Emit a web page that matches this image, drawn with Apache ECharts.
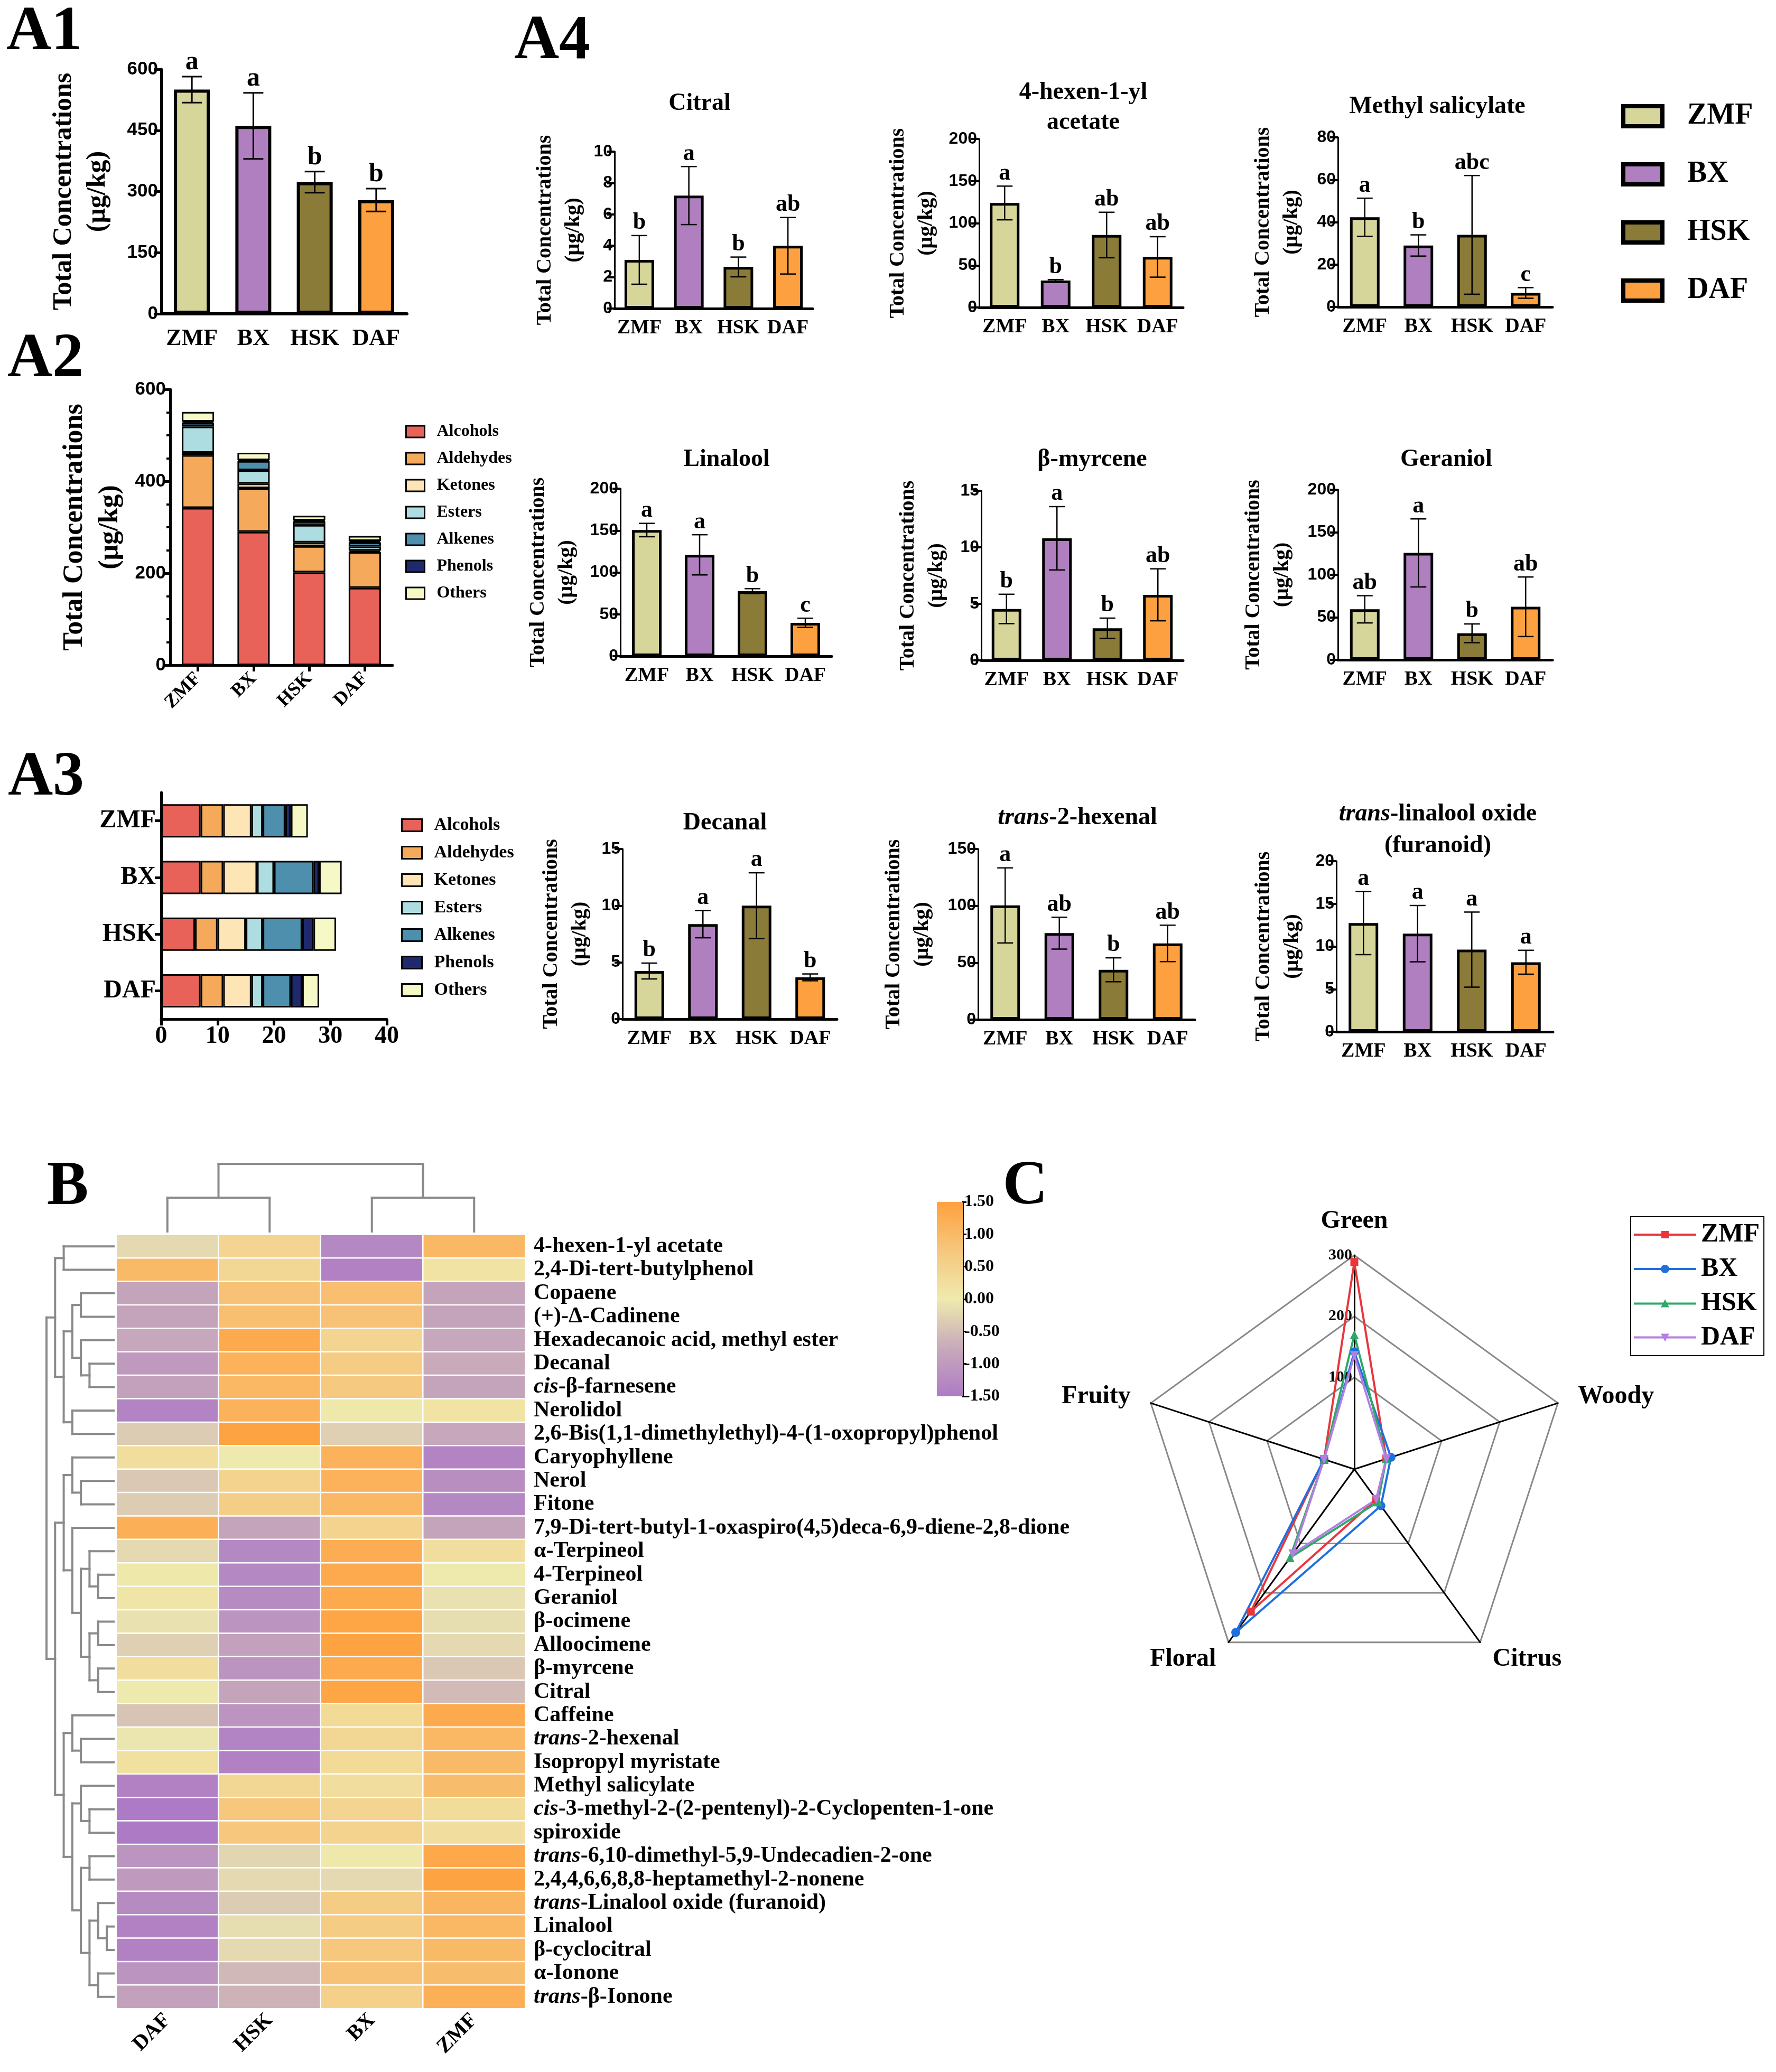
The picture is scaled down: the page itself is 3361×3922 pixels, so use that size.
<!DOCTYPE html>
<html><head><meta charset="utf-8">
<script src="https://cdn.jsdelivr.net/npm/echarts@6/dist/echarts.min.js"></script>
<style>html,body{margin:0;padding:0;background:#fff}#c{width:3361px;height:3922px}</style>
</head><body><div id="c"></div>
<script>
// ---------------- DATA ----------------
const samples = ['ZMF', 'BX', 'HSK', 'DAF'];

// A1 total concentrations
const totalMean = [550, 461, 323, 279];
const totalErr = [32, 81, 26, 28];
const totalSig = ['a', 'a', 'b', 'b'];

// A2 concentrations by class (ZMF, BX, HSK, DAF)
const classNames = ['Alcohols', 'Aldehydes', 'Ketones', 'Esters', 'Alkenes', 'Phenols', 'Others'];
const concAlcohols = [342, 290, 202, 168];
const concAldehydes = [115, 95, 57, 78];
const concKetones = [5, 10, 8, 3];
const concEsters = [57, 29, 38, 9];
const concAlkenes = [8, 20, 8, 9];
const concPhenols = [3, 2, 2, 3];
const concOthers = [21, 16, 10, 11];

// A3 number of compounds by class (ZMF, BX, HSK, DAF)
const numAlcohols = [7, 7, 6, 7];
const numAldehydes = [4, 4, 4, 4];
const numKetones = [5, 6, 5, 5];
const numEsters = [2, 3, 3, 2];
const numAlkenes = [4, 7, 7, 5];
const numPhenols = [1, 1, 2, 2];
const numOthers = [3, 4, 4, 3];

// A4 key compounds (ZMF, BX, HSK, DAF)
const citralMean = [3.1, 7.2, 2.65, 4.0];
const citralErr = [1.55, 1.85, 0.63, 1.8];
const citralSig = ['b', 'a', 'b', 'ab'];
const hexenylMean = [124, 32, 86, 60];
const hexenylErr = [20, 1, 27, 24];
const hexenylSig = ['a', 'b', 'ab', 'ab'];
const methylSalMean = [42.3, 29, 34, 6.6];
const methylSalErr = [9, 5, 28, 2.5];
const methylSalSig = ['a', 'b', 'abc', 'c'];
const linaloolMean = [150.6, 121, 77.6, 39.8];
const linaloolErr = [8, 24, 3, 5.5];
const linaloolSig = ['a', 'a', 'b', 'c'];
const myrceneMean = [4.55, 10.8, 2.84, 5.8];
const myrceneErr = [1.3, 2.8, 0.9, 2.3];
const myrceneSig = ['b', 'a', 'b', 'ab'];
const geraniolMean = [59.4, 125.7, 31.2, 62.4];
const geraniolErr = [16, 40, 11, 35];
const geraniolSig = ['ab', 'a', 'b', 'ab'];
const decanalMean = [4.24, 8.37, 10.0, 3.68];
const decanalErr = [0.7, 1.2, 2.9, 0.3];
const decanalSig = ['b', 'a', 'a', 'b'];
const hexenalMean = [100.4, 76, 43.8, 67];
const hexenalErr = [33, 14, 10.5, 16];
const hexenalSig = ['a', 'ab', 'b', 'ab'];
const linOxideMean = [12.74, 11.5, 9.63, 8.15];
const linOxideErr = [3.7, 3.3, 4.4, 1.4];
const linOxideSig = ['a', 'a', 'a', 'a'];

// B heatmap
const hmCols = ['DAF', 'HSK', 'BX', 'ZMF'];
const hmRows = ['4-hexen-1-yl acetate', '2,4-Di-tert-butylphenol', 'Copaene', '(+)-\u0394-Cadinene',
  'Hexadecanoic acid, methyl ester', 'Decanal', 'cis-\u03b2-farnesene', 'Nerolidol',
  '2,6-Bis(1,1-dimethylethyl)-4-(1-oxopropyl)phenol', 'Caryophyllene', 'Nerol', 'Fitone',
  '7,9-Di-tert-butyl-1-oxaspiro(4,5)deca-6,9-diene-2,8-dione', '\u03b1-Terpineol', '4-Terpineol', 'Geraniol',
  '\u03b2-ocimene', 'Alloocimene', '\u03b2-myrcene', 'Citral', 'Caffeine', 'trans-2-hexenal',
  'Isopropyl myristate', 'Methyl salicylate', 'cis-3-methyl-2-(2-pentenyl)-2-Cyclopenten-1-one', 'spiroxide',
  'trans-6,10-dimethyl-5,9-Undecadien-2-one', '2,4,4,6,6,8,8-heptamethyl-2-nonene',
  'trans-Linalool oxide (furanoid)', 'Linalool', '\u03b2-cyclocitral', '\u03b1-Ionone', 'trans-\u03b2-Ionone'];
const hmValues = [
  [-0.2, 0.45, -1.3, 1.05], [1.0, 0.4, -1.4, 0.15], [-0.85, 0.85, 0.9, -0.85], [-0.85, 0.9, 0.85, -0.85],
  [-0.8, 1.3, 0.45, -0.8], [-1.0, 1.15, 0.65, -0.75], [-0.9, 1.05, 0.7, -0.85], [-1.35, 1.15, 0.05, 0.15],
  [-0.35, 1.45, -0.3, -0.8], [0.25, 0.0, 1.15, -1.35], [-0.4, 0.5, 1.15, -1.2], [-0.35, 0.6, 1.05, -1.3],
  [1.2, -0.85, 0.5, -0.85], [-0.2, -1.3, 1.25, 0.25], [0.05, -1.3, 1.3, 0.0], [0.1, -1.25, 1.3, -0.1],
  [-0.1, -1.1, 1.4, -0.15], [-0.3, -0.9, 1.45, -0.2], [0.25, -1.1, 1.3, -0.4], [0.0, -0.85, 1.4, -0.55],
  [-0.45, -1.1, 0.35, 1.3], [-0.05, -1.35, 0.4, 1.05], [0.2, -1.4, 0.35, 1.0], [-1.4, 0.4, 0.25, 0.95],
  [-1.5, 0.75, 0.45, 0.3], [-1.5, 0.75, 0.5, 0.25], [-1.1, -0.25, 0.05, 1.35], [-1.0, -0.2, -0.2, 1.45],
  [-1.25, -0.35, 0.65, 1.1], [-1.4, -0.15, 0.65, 1.05], [-1.4, -0.2, 0.75, 1.0], [-1.1, -0.6, 0.85, 0.95],
  [-0.9, -0.65, 0.55, 1.2]];
const colTree = [[0, 1], [2, 3]];
const rowTree = [
  [[0, 1], [[[2, 3], [4, [5, 6]]], [7, 8]]],
  [[[9, [10, 11]], [12, [[13, [14, 15]], [[16, 17], [18, 19]]]]],
   [[20, [21, 22]], [[23, [24, 25]], [[26, 27], [[28, [29, 30]], [31, 32]]]]]]];

// C radar
const aromaNames = ['Green', 'Fruity', 'Floral', 'Citrus', 'Woody'];
const aromaZMF = [289, 2, 238, 11, 5];
const aromaBX = [142, 2, 280, 24, 13];
const aromaHSK = [170, 2, 129, 16, 5];
const aromaDAF = [136, 2, 121, 11, 5];
const radarTickLabels = [100, 200, 300];

// ---------------- STYLE ----------------
const FONT = '"Liberation Serif", "Times New Roman", serif';
const SANS = '"Liberation Sans", Arial, sans-serif';
const sampleColors = ['#D6D69B', '#AF7FBF', '#8B7B38', '#FDA03F'];
const classColors = ['#E8625A', '#F5AA5B', '#FDE5B5', '#AEDDE1', '#4E8FAE', '#1F2A6E', '#F6F8C5'];
const radarColors = ['#E8363C', '#1F6FE0', '#2EA86A', '#B47FE0'];

const grids = [], xAxes = [], yAxes = [], series = [], legends = [], gfx = [];
function addGrid(r) {
  grids.push({left: r[0], top: r[1], width: r[2], height: r[3], containLabel: false, outerBoundsMode: 'none'});
  return grids.length - 1;
}
const bold = (size, extra) => Object.assign({color: '#000', fontFamily: FONT, fontWeight: 'bold', fontSize: size}, extra || {});
const boldSans = (size, extra) => Object.assign({color: '#000', fontFamily: SANS, fontWeight: 'bold', fontSize: size}, extra || {});

function errRenderer(sig, p) {
  return function (params, api) {
    const i = api.value(0), v = api.value(1), e = api.value(2);
    const t = api.coord([i, v + e]), b = api.coord([i, Math.max(0, v - e)]);
    const h = p.cap / 2, lw = p.errW;
    const ls = {stroke: '#000', lineWidth: lw};
    return {type: 'group', children: [
      {type: 'line', shape: {x1: t[0], y1: t[1], x2: b[0], y2: b[1]}, style: ls},
      {type: 'line', shape: {x1: t[0] - h, y1: t[1], x2: t[0] + h, y2: t[1]}, style: ls},
      {type: 'line', shape: {x1: b[0] - h, y1: b[1], x2: b[0] + h, y2: b[1]}, style: ls},
      {type: 'text', style: {text: sig[params.dataIndex], x: t[0], y: t[1] - 2, align: 'center', verticalAlign: 'bottom',
        textAlign: 'center', textVerticalAlign: 'bottom', fontSize: p.letter, fontFamily: FONT, fontWeight: 'bold', fill: '#000'}}
    ]};
  };
}

function barPanel(p, mean, err, sig) {
  const gi = addGrid(p.rect);
  xAxes.push({gridIndex: gi, type: 'category', data: samples,
    axisLine: {lineStyle: {color: '#000', width: p.xw}}, axisTick: {show: false},
    axisLabel: bold(p.cat, {margin: p.catMargin, interval: 0})});
  yAxes.push({gridIndex: gi, type: 'value', min: 0, max: p.max, interval: p.step,
    name: 'Total Concentrations\n(\u03bcg/kg)', nameLocation: 'middle', nameRotate: 90, nameGap: p.nameGap,
    nameTextStyle: bold(p.nameSize, {lineHeight: p.nameLH}),
    axisLine: {show: true, lineStyle: {color: '#000', width: p.yw}},
    axisTick: {show: true, length: p.tick, lineStyle: {color: '#000', width: p.tickW}},
    axisLabel: boldSans(p.tickFont, {margin: p.tickMargin}), splitLine: {show: false}});
  series.push({type: 'bar', xAxisIndex: gi, yAxisIndex: gi, barWidth: p.barW,
    data: mean.map((v, i) => ({value: v, itemStyle: {color: sampleColors[i]}})),
    itemStyle: {borderColor: '#000', borderWidth: p.border}});
  series.push({type: 'custom', xAxisIndex: gi, yAxisIndex: gi, z: 5,
    data: mean.map((v, i) => [i, v, err[i]]), renderItem: errRenderer(sig, p)});
}

// A1
barPanel({rect: [305, 131, 465, 463], max: 600, step: 150, xw: 6, yw: 5, tick: 14, tickW: 5, cat: 44, catMargin: 26,
  tickFont: 35, tickMargin: 6, nameGap: 88, nameSize: 50, nameLH: 64, barW: 68, border: 6, cap: 38, errW: 3, letter: 50},
  totalMean, totalErr, totalSig);

// A4 panels
const a4 = {xw: 5, yw: 3, tick: 15, tickW: 4, cat: 38, catMargin: 18, tickFont: 32, tickMargin: 4, nameSize: 40, nameLH: 54,
  barW: 56, border: 5, cap: 30, errW: 2.5, letter: 44};
const P = (o) => Object.assign({}, a4, o);
barPanel(P({rect: [1163, 287, 375, 297], max: 10, step: 2, nameGap: 50}), citralMean, citralErr, citralSig);
barPanel(P({rect: [1853, 263, 386, 319], max: 200, step: 50, nameGap: 72}), hexenylMean, hexenylErr, hexenylSig);
barPanel(P({rect: [2532, 260, 406, 321], max: 80, step: 20, nameGap: 60}), methylSalMean, methylSalErr, methylSalSig);
barPanel(P({rect: [1174, 925, 400, 317], max: 200, step: 50, nameGap: 74}), linaloolMean, linaloolErr, linaloolSig);
barPanel(P({rect: [1857, 929, 382, 321], max: 15, step: 5, nameGap: 57}), myrceneMean, myrceneErr, myrceneSig);
barPanel(P({rect: [2532, 927, 406, 322], max: 200, step: 50, nameGap: 78}), geraniolMean, geraniolErr, geraniolSig);
barPanel(P({rect: [1178, 1607, 406, 322], max: 15, step: 5, nameGap: 53}), decanalMean, decanalErr, decanalSig);
barPanel(P({rect: [1851, 1607, 410, 323], max: 150, step: 50, nameGap: 78}), hexenalMean, hexenalErr, hexenalSig);
barPanel(P({rect: [2529, 1630, 410, 323], max: 20, step: 5, nameGap: 56}), linOxideMean, linOxideErr, linOxideSig);

// A2 stacked concentrations
const concByClass = [concAlcohols, concAldehydes, concKetones, concEsters, concAlkenes, concPhenols, concOthers];
{
  const gi = addGrid([322, 737, 421, 522]);
  xAxes.push({gridIndex: gi, type: 'category', data: samples,
    axisLine: {lineStyle: {color: '#000', width: 5}},
    axisTick: {show: true, alignWithLabel: true, length: 12, lineStyle: {color: '#000', width: 5}},
    axisLabel: bold(36, {rotate: 45, margin: 20, interval: 0})});
  yAxes.push({gridIndex: gi, type: 'value', min: 0, max: 600, interval: 200,
    name: 'Total Concentrations\n(\u03bcg/kg)', nameLocation: 'middle', nameRotate: 90, nameGap: 80,
    nameTextStyle: bold(52, {lineHeight: 67}),
    axisLine: {show: true, lineStyle: {color: '#000', width: 5}},
    axisTick: {show: true, length: 12, lineStyle: {color: '#000', width: 5}},
    minorTick: {show: true, splitNumber: 4, length: 7, lineStyle: {color: '#000', width: 4}},
    axisLabel: boldSans(35, {margin: 8}), splitLine: {show: false}});
  classNames.forEach((n, k) => series.push({type: 'bar', name: n, stack: 'a2', xAxisIndex: gi, yAxisIndex: gi,
    barWidth: 61, data: concByClass[k], itemStyle: {color: classColors[k], borderColor: '#000', borderWidth: 3}}));
}

// A3 stacked counts
const numByClass = [numAlcohols, numAldehydes, numKetones, numEsters, numAlkenes, numPhenols, numOthers];
{
  const gi = addGrid([305, 1500, 427, 429]);
  xAxes.push({gridIndex: gi, type: 'value', min: 0, max: 40, interval: 10,
    axisLine: {show: true, lineStyle: {color: '#000', width: 5}},
    axisTick: {show: true, length: 12, lineStyle: {color: '#000', width: 5}},
    axisLabel: bold(46, {margin: 10}), splitLine: {show: false}});
  yAxes.push({gridIndex: gi, type: 'category', data: samples, inverse: true,
    axisLine: {lineStyle: {color: '#000', width: 5}},
    axisTick: {show: true, alignWithLabel: true, length: 12, lineStyle: {color: '#000', width: 5}},
    axisLabel: bold(48, {margin: 10, interval: 0})});
  classNames.forEach((n, k) => series.push({type: 'bar', name: n, stack: 'a3', xAxisIndex: gi, yAxisIndex: gi,
    barWidth: 63, data: numByClass[k], itemStyle: {color: classColors[k], borderColor: '#000', borderWidth: 3}}));
}

legends.push({left: 767, top: 801, orient: 'vertical', padding: 0, itemWidth: 35, itemHeight: 22, itemGap: 19,
  icon: 'rect', data: classNames, itemStyle: {borderColor: '#000', borderWidth: 3},
  textStyle: bold(32, {lineHeight: 22, padding: [0, 0, 0, 18]})});
legends.push({left: 759, top: 1545, orient: 'vertical', padding: 0, itemWidth: 38, itemHeight: 23, itemGap: 18,
  icon: 'rect', data: classNames, itemStyle: {borderColor: '#000', borderWidth: 3},
  textStyle: bold(34, {lineHeight: 23, padding: [0, 0, 0, 18]})});
legends.push({left: 3068, top: 192, orient: 'vertical', padding: 0, itemWidth: 74, itemHeight: 38, itemGap: 54,
  data: samples.map((s, i) => ({name: s, icon: 'rect', itemStyle: {color: sampleColors[i], borderColor: '#000', borderWidth: 8}})),
  textStyle: bold(56, {lineHeight: 38, padding: [0, 0, 0, 42]})});

// ---------------- B heatmap + dendrograms ----------------
function layoutTree(tree, leafLevel) {
  const segs = [];
  (function rec(node, depth) {
    if (typeof node === 'number') return {d: leafLevel, p: node};
    const kids = node.map(c => rec(c, depth + 1));
    const ps = kids.map(k => k.p);
    const lo = Math.min.apply(null, ps), hi = Math.max.apply(null, ps);
    segs.push([depth, lo, depth, hi]);
    kids.forEach(k => segs.push([depth, k.p, k.d, k.p]));
    return {d: depth, p: (lo + hi) / 2};
  })(tree, 0);
  return segs;
}
const lineRender = (params, api) => {
  const a = api.coord([api.value(0), api.value(1)]), b = api.coord([api.value(2), api.value(3)]);
  return {type: 'line', shape: {x1: a[0], y1: a[1], x2: b[0], y2: b[1]}, style: {stroke: '#8a8a8a', lineWidth: 4, lineCap: 'square'}};
};
const hiddenVal = (gi, min, max, inv) => ({gridIndex: gi, type: 'value', min: min, max: max, inverse: !!inv, show: false, splitLine: {show: false}});

let heatIdx;
{
  const gi = addGrid([220, 2337, 774, 1465]);
  xAxes.push({gridIndex: gi, type: 'category', data: hmCols, axisLine: {show: false}, axisTick: {show: false},
    axisLabel: bold(40, {rotate: 45, margin: 16, interval: 0})});
  yAxes.push({gridIndex: gi, type: 'category', data: hmRows, inverse: true, position: 'right',
    axisLine: {show: false}, axisTick: {show: false},
    axisLabel: {interval: 0, margin: 16, align: 'left',
      formatter: (v) => {
        const m = v.match(/^(cis|trans)(-.*)$/);
        return m ? '{i|' + m[1] + '}{n|' + m[2] + '}' : '{n|' + v + '}';
      },
      rich: {i: bold(42, {fontStyle: 'italic'}), n: bold(42)}}});
  series.push({type: 'heatmap', xAxisIndex: gi, yAxisIndex: gi,
    data: hmValues.flatMap((row, r) => row.map((v, c) => [c, r, v])),
    itemStyle: {borderColor: '#fff', borderWidth: 2.5}});
  heatIdx = series.length - 1;

  const gr = addGrid([88, 2337, 127, 1465]);
  xAxes.push(hiddenVal(gr, 0, 7.8));
  yAxes.push(hiddenVal(gr, -0.5, hmRows.length - 0.5, true));
  series.push({type: 'custom', xAxisIndex: gr, yAxisIndex: gr, renderItem: lineRender,
    data: layoutTree(rowTree, 7.8)});

  const gc = addGrid([220, 2203, 774, 128]);
  xAxes.push(hiddenVal(gc, -0.5, hmCols.length - 0.5));
  yAxes.push(hiddenVal(gc, 0, 2, true));
  series.push({type: 'custom', xAxisIndex: gc, yAxisIndex: gc, renderItem: lineRender,
    data: layoutTree(colTree, 2).map(s => [s[1], s[0], s[3], s[2]])});

  const gb = addGrid([1773, 2275, 49, 368]);
  xAxes.push({gridIndex: gb, type: 'value', show: false});
  yAxes.push({gridIndex: gb, type: 'value', position: 'right', min: -1.5, max: 1.5, interval: 0.5,
    axisLine: {show: true, onZero: false, lineStyle: {color: '#000', width: 4}},
    axisTick: {show: true, length: 7, lineStyle: {color: '#000', width: 3}},
    axisLabel: bold(32, {margin: 3, formatter: (v) => v.toFixed(2)}), splitLine: {show: false}});
}

// ---------------- C radar ----------------
const aromaData = [aromaZMF, aromaBX, aromaHSK, aromaDAF];
const radarSymbols = ['rect', 'circle', 'triangle', 'triangle'];
const radarRot = [0, 0, 0, 180];
series.push({type: 'radar', radarIndex: 0, z: 5,
  data: samples.map((s, i) => ({name: s, value: aromaData[i], symbol: radarSymbols[i], symbolRotate: radarRot[i],
    symbolSize: i === 0 ? 15 : 17, lineStyle: {color: radarColors[i], width: 4}, itemStyle: {color: radarColors[i]}}))});
const ringColors = ['rgba(0,0,0,0)', 'rgba(0,0,0,0)', 'rgba(0,0,0,0)', '#888', 'rgba(0,0,0,0)', '#888', 'rgba(0,0,0,0)', '#888'];
const lineIcon = 'M0,8h118v4H0z ';
const radarIcons = [
  'path://' + lineIcon + 'M52,3h14v14H52z',
  'path://' + lineIcon + 'M51,10a8,8 0 1,1 16,0a8,8 0 1,1 -16,0z',
  'path://' + lineIcon + 'M59,2L67,17H51z',
  'path://' + lineIcon + 'M51,3H67L59,18z'];
legends.push({left: 3086, top: 2303, orient: 'vertical', padding: [9, 8, 9, 6], borderColor: '#000', borderWidth: 2,
  itemWidth: 118, itemHeight: 20, itemGap: 15,
  data: samples.map((s, i) => ({name: s, icon: radarIcons[i], itemStyle: {color: radarColors[i], borderWidth: 0}})),
  textStyle: bold(50, {lineHeight: 50, padding: [0, 0, 0, 4]})});

// ---------------- text: panel letters and titles ----------------
function txt(t, x, y, size, extra) {
  gfx.push({type: 'text', x: x, y: y, z: 10, style: Object.assign({text: t, fontSize: size, fontFamily: FONT, fontWeight: 'bold',
    fill: '#000', align: 'center', verticalAlign: 'middle', textAlign: 'center', textVerticalAlign: 'middle',
    rich: {i: {fontStyle: 'italic', fontSize: size, fontFamily: FONT, fontWeight: 'bold', fill: '#000'}}}, extra || {})});
}
txt('A1', 84, 63, 118); txt('A2', 86, 682, 118); txt('A3', 87, 1474, 118); txt('A4', 1045, 80, 118);
txt('B', 128, 2249, 118); txt('C', 1940, 2248, 118);
txt('Citral', 1324, 196, 46);
txt('4-hexen-1-yl\nacetate', 2050, 204, 46, {lineHeight: 57});
txt('Methyl salicylate', 2720, 202, 46);
txt('Linalool', 1375, 870, 46);
txt('\u03b2-myrcene', 2067, 870, 46);
txt('Geraniol', 2737, 870, 46);
txt('Decanal', 1372, 1558, 46);
txt('{i|trans}-2-hexenal', 2039, 1548, 46);
txt('{i|trans}-linalool oxide\n(furanoid)', 2721, 1571, 46, {lineHeight: 60});

const option = {
  backgroundColor: '#fff', animation: false,
  textStyle: {fontFamily: FONT},
  grid: grids, xAxis: xAxes, yAxis: yAxes, series: series, legend: legends,
  graphic: {elements: gfx},
  radar: {center: [2563, 2781], radius: 405, startAngle: 90, shape: 'polygon', splitNumber: 7,
    indicator: aromaNames.map(n => ({name: n, min: -50, max: 300})),
    axisName: bold(48), nameGap: 40,
    axisLine: {lineStyle: {color: '#000', width: 3}},
    axisTick: {show: false}, axisLabel: {show: false},
    splitLine: {lineStyle: {color: ringColors, width: 3}},
    splitArea: {show: false}},
  polar: {center: [2563, 2781], radius: 405},
  angleAxis: {type: 'value', startAngle: 90, min: 0, max: 360, show: false},
  radiusAxis: {type: 'value', min: -50, max: 300, interval: 50,
    axisLine: {show: false}, axisTick: {show: false}, splitLine: {show: false},
    axisLabel: bold(30, {margin: 4, formatter: (v) => (radarTickLabels.indexOf(v) >= 0 ? String(v) : '')})},
  visualMap: {type: 'continuous', min: -1.5, max: 1.5, seriesIndex: heatIdx, calculable: false,
    left: 1773, top: 2275, itemWidth: 49, itemHeight: 368, padding: 0, text: null, showLabel: false,
    inRange: {color: ['#AD7BC5', '#C8AABA', '#EEEAAE', '#F6C77D', '#FFA03E']}}
};
const chart = echarts.init(document.getElementById('c'), null, {renderer: 'canvas'});
chart.setOption(option);
</script></body></html>
